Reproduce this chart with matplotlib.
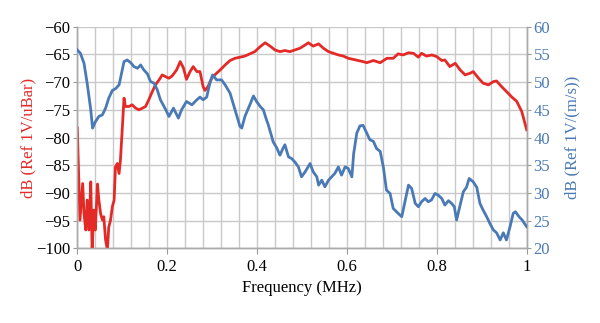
# Frequency response of two sensors, left axis red, right axis blue
import matplotlib.pyplot as plt
import numpy as np

# Red curve: frequency (MHz) and level dB (Ref 1V/uBar)
red_freq = [0.0, 0.006, 0.012, 0.015, 0.019, 0.022, 0.026, 0.030, 0.033, 0.037,
            0.040, 0.045, 0.048, 0.052, 0.056, 0.059, 0.063, 0.067, 0.070, 0.074,
            0.078, 0.082, 0.085, 0.089, 0.093, 0.096, 0.100, 0.104, 0.107, 0.115,
            0.122, 0.130, 0.137, 0.145, 0.152, 0.159, 0.167, 0.174, 0.182, 0.189,
            0.196, 0.204, 0.211, 0.221, 0.229, 0.236, 0.243, 0.251, 0.258, 0.266,
            0.273, 0.280, 0.284, 0.291, 0.299, 0.306, 0.318, 0.329, 0.340, 0.351,
            0.362, 0.373, 0.384, 0.395, 0.407, 0.418, 0.429, 0.440, 0.451, 0.462,
            0.473, 0.484, 0.495, 0.507, 0.514, 0.525, 0.537, 0.548, 0.559, 0.570,
            0.581, 0.592, 0.603, 0.614, 0.625, 0.636, 0.644, 0.659, 0.674, 0.689,
            0.703, 0.714, 0.725, 0.737, 0.748, 0.759, 0.766, 0.777, 0.789, 0.800,
            0.811, 0.818, 0.829, 0.841, 0.852, 0.863, 0.874, 0.881, 0.893, 0.903,
            0.915, 0.926, 0.933, 0.944, 0.955, 0.967, 0.978, 0.989, 1.0]
red_db = [-78.3, -94.9, -88.3, -93.8, -96.7, -91.3, -96.7, -88.0, -100.3, -93.1,
          -96.7, -88.4, -91.3, -93.8, -94.9, -94.3, -98.5, -100.3, -96.2, -94.9,
          -92.5, -91.3, -85.3, -84.7, -86.5, -84.1, -78.6, -72.9, -74.4, -74.4,
          -74.1, -74.7, -75.0, -74.7, -74.4, -73.2, -71.7, -70.5, -69.6, -68.7,
          -69.0, -69.3, -68.9, -67.8, -66.3, -67.4, -69.5, -68.1, -67.2, -68.1,
          -68.1, -70.8, -71.5, -70.8, -69.3, -68.7, -67.8, -66.9, -66.1, -65.7,
          -65.5, -65.3, -64.9, -64.5, -63.6, -62.9, -63.5, -64.2, -64.5, -64.3,
          -64.5, -64.2, -63.9, -63.3, -62.9, -63.5, -63.1, -63.9, -64.5, -64.8,
          -65.1, -65.3, -65.7, -65.9, -66.1, -66.3, -66.5, -66.1, -66.5, -65.7,
          -65.7, -64.9, -65.1, -64.7, -64.8, -65.5, -64.8, -65.3, -65.1, -65.4,
          -66.1, -66.0, -67.2, -66.6, -67.8, -68.7, -68.4, -68.1, -69.3, -70.2,
          -70.5, -69.9, -69.8, -70.8, -71.7, -72.7, -73.5, -75.3, -78.6]

# Blue curve: frequency (MHz) and level dB (Ref 1V/(m/s))
blue_freq = [0.0, 0.007, 0.015, 0.022, 0.030, 0.034, 0.040, 0.048, 0.056, 0.063,
             0.070, 0.078, 0.085, 0.093, 0.100, 0.104, 0.111, 0.119, 0.126, 0.134,
             0.141, 0.148, 0.156, 0.163, 0.171, 0.178, 0.185, 0.197, 0.204, 0.214,
             0.225, 0.232, 0.243, 0.255, 0.266, 0.273, 0.280, 0.288, 0.295, 0.301,
             0.310, 0.321, 0.329, 0.340, 0.351, 0.362, 0.366, 0.373, 0.384, 0.392,
             0.399, 0.407, 0.414, 0.421, 0.425, 0.436, 0.444, 0.451, 0.458, 0.462,
             0.470, 0.477, 0.484, 0.492, 0.499, 0.507, 0.518, 0.525, 0.533, 0.537,
             0.544, 0.551, 0.559, 0.566, 0.573, 0.581, 0.588, 0.596, 0.603, 0.611,
             0.615, 0.622, 0.629, 0.636, 0.644, 0.651, 0.659, 0.666, 0.674, 0.681,
             0.688, 0.696, 0.703, 0.714, 0.722, 0.729, 0.737, 0.744, 0.752, 0.759,
             0.766, 0.774, 0.781, 0.788, 0.796, 0.803, 0.811, 0.818, 0.826, 0.833,
             0.839, 0.844, 0.852, 0.859, 0.866, 0.872, 0.881, 0.889, 0.896, 0.903,
             0.911, 0.918, 0.926, 0.933, 0.941, 0.948, 0.955, 0.963, 0.970, 0.975,
             0.983, 0.990, 1.0]
blue_db = [55.8, 55.2, 53.4, 49.8, 45.0, 41.7, 42.8, 43.8, 44.1, 45.3,
           47.1, 48.5, 48.8, 49.5, 52.2, 53.7, 54.0, 53.5, 52.8, 52.5,
           53.1, 52.2, 51.5, 50.1, 49.8, 48.6, 46.8, 45.0, 43.8, 45.3,
           43.5, 45.0, 46.5, 45.9, 46.8, 47.3, 46.8, 47.3, 49.8, 51.3,
           50.4, 50.4, 49.5, 48.0, 45.0, 42.0, 41.7, 43.8, 45.9, 47.5,
           46.5, 45.6, 45.0, 43.2, 42.3, 39.2, 38.1, 36.8, 38.1, 38.7,
           36.5, 36.2, 35.6, 34.7, 32.9, 33.8, 35.3, 33.8, 32.9, 31.4,
           32.3, 31.1, 32.3, 32.9, 33.5, 34.7, 33.2, 34.7, 34.4, 32.9,
           37.1, 40.8, 42.1, 42.2, 40.8, 39.6, 39.3, 38.0, 37.5, 34.7,
           30.5, 29.9, 27.2, 26.3, 25.7, 28.4, 31.4, 30.8, 28.1, 27.5,
           28.4, 29.0, 28.4, 28.7, 29.9, 29.6, 29.0, 27.8, 28.6, 28.1,
           27.5, 25.1, 27.8, 30.2, 31.0, 32.6, 32.0, 31.0, 28.1, 26.9,
           25.7, 24.5, 23.3, 22.8, 21.5, 22.8, 21.5, 23.9, 26.3, 26.6,
           25.7, 25.1, 23.9]

x_ticks = [0, 0.2, 0.4, 0.6, 0.8, 1]
x_labels = ['0', '0.2', '0.4', '0.6', '0.8', '1']
left_ticks = [-60, -65, -70, -75, -80, -85, -90, -95, -100]
right_ticks = [20, 25, 30, 35, 40, 45, 50, 55, 60]

red = '#e42a27'
blue = '#4a7ab5'
grid_col = '#c9c9c9'

plt.rcParams['font.family'] = ['Liberation Serif', 'DejaVu Serif']

fig = plt.figure(figsize=(6, 3.23), dpi=100)
ax = fig.add_axes([0.1288, 0.2313, 0.749, 0.686])
ax2 = ax.twinx()

ax.plot(red_freq, red_db, color=red, lw=2.0, zorder=3)
ax2.plot(blue_freq, blue_db, color=blue, lw=2.0, zorder=3)

ax.set_xlim(0, 1)
ax.set_ylim(-100, -60)
ax2.set_ylim(20, 60)

# grid: vertical every 0.04, horizontal every 5 dB
ax.set_xticks(np.arange(0, 1.001, 0.04), minor=True)
ax.set_xticks(x_ticks)
ax.set_xticklabels(x_labels)
ax.set_yticks(left_ticks)
ax2.set_yticks(right_ticks)
ax.grid(True, which='both', color=grid_col, lw=1.0)
ax.set_axisbelow(True)

ax.tick_params(axis='x', which='minor', length=0)
ax.tick_params(axis='x', which='major', length=4, color='#999999',
               labelsize=12, pad=4)
ax.tick_params(axis='y', length=3, color='#999999', labelsize=12, pad=2)
ax2.tick_params(axis='y', length=3, color='#999999', labelsize=12,
                labelcolor=blue, pad=2)

for a in (ax, ax2):
    a.spines['top'].set_visible(False)
    for s in ('left', 'right', 'bottom'):
        a.spines[s].set_color('#aaaaaa')
        a.spines[s].set_linewidth(1.0)

ax.set_xlabel('Frequency (MHz)', fontsize=12, labelpad=3)
ax.set_ylabel('dB (Ref 1V/uBar)', fontsize=12, color=red, labelpad=0)
ax2.set_ylabel('dB (Ref 1V/(m/s))', fontsize=12, color=blue, labelpad=10)

fig.savefig('out.png', dpi=100)
